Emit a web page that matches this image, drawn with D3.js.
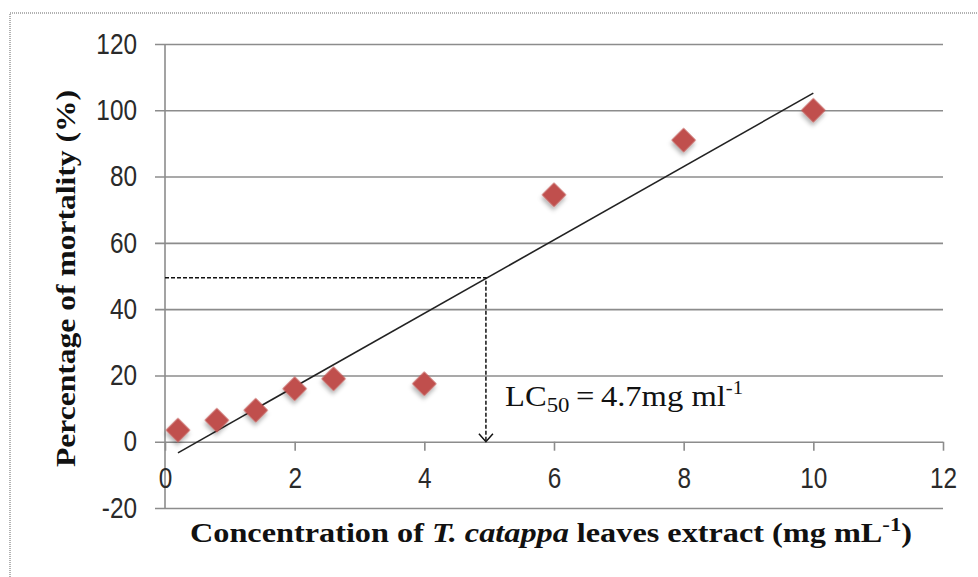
<!DOCTYPE html>
<html>
<head>
<meta charset="utf-8">
<script src="https://cdn.jsdelivr.net/npm/d3@7"></script>
<style>
  body { margin: 0; background: #fff; }
  svg { display: block; }
</style>
</head>
<body>
<div id="chart"></div>
<script>
const width = 978;
const height = 577;

// concentration (mg/mL) and mortality (%)
const concentration = [0.2, 0.8, 1.4, 2, 2.6, 4, 6, 8, 10];
const mortality = [3.5, 6.5, 9.5, 16, 19, 17.5, 74.5, 91, 100];

const xTicks = [0, 2, 4, 6, 8, 10, 12];
const yTicks = [-20, 0, 20, 40, 60, 80, 100, 120];

// where the dashed LC50 guide meets the trend line
const lc50Point = [4.95, 49.5];

const svg = d3.select("#chart")
  .append("svg")
  .attr("width", width)
  .attr("height", height);

// shadow under the markers
const defs = svg.append("defs");
defs.append("filter")
  .attr("id", "shadow")
  .attr("x", "-50%").attr("y", "-50%")
  .attr("width", "200%").attr("height", "200%")
  .append("feDropShadow")
  .attr("dx", 2).attr("dy", 3)
  .attr("stdDeviation", 2)
  .attr("flood-color", "#000")
  .attr("flood-opacity", 0.3);

// outer frame, only the left and top edges are in the picture
svg.append("rect")
  .attr("x", 10).attr("y", 13)
  .attr("width", 990).attr("height", 600)
  .attr("fill", "#fff")
  .attr("stroke", "#999")
  .attr("stroke-width", 1.5)
  .attr("stroke-dasharray", "1,1");

const x = d3.scaleLinear().domain([0, 12]).range([165, 943]);
const y = d3.scaleLinear().domain([-20, 120]).range([508, 44]);

const gridLeft = 155;
const tickFont = "'Liberation Sans', Arial, sans-serif";

// squeeze the tick labels a little, the originals are narrow
function narrowLabels(sel) {
  sel.attr("font-family", tickFont)
    .attr("font-size", 29)
    .attr("fill", "#2a2a2a")
    .each(function () {
      const w = this.getComputedTextLength();
      d3.select(this)
        .attr("textLength", w * 0.84)
        .attr("lengthAdjust", "spacingAndGlyphs");
    });
}

// y axis with gridlines
const yAxis = svg.append("g")
  .attr("transform", `translate(${gridLeft},0)`)
  .call(d3.axisLeft(y)
    .tickValues(yTicks)
    .tickFormat(d => String(d))
    .tickSize(-(x.range()[1] - gridLeft))
    .tickPadding(18));
yAxis.select(".domain").remove();
yAxis.selectAll(".tick line")
  .attr("stroke", "#8c8c8c")
  .attr("stroke-width", 1.6);
yAxis.selectAll(".tick text").call(narrowLabels);

// vertical axis line
svg.append("line")
  .attr("x1", x(0)).attr("x2", x(0))
  .attr("y1", y(120)).attr("y2", y(-20))
  .attr("stroke", "#8c8c8c")
  .attr("stroke-width", 1.6);

// x axis sits on the zero line
const xAxis = svg.append("g")
  .attr("transform", `translate(0,${y(0)})`)
  .call(d3.axisBottom(x).tickValues(xTicks).tickFormat(d => String(d)).tickSize(9).tickPadding(17));
xAxis.select(".domain").remove();
xAxis.selectAll(".tick line")
  .attr("stroke", "#8c8c8c")
  .attr("stroke-width", 1.6);
xAxis.selectAll(".tick text").call(narrowLabels);

// linear trend line (least squares fit over the points)
const n = concentration.length;
const mx = d3.mean(concentration);
const my = d3.mean(mortality);
let sxy = 0, sxx = 0;
for (let i = 0; i < n; i++) {
  sxy += (concentration[i] - mx) * (mortality[i] - my);
  sxx += (concentration[i] - mx) ** 2;
}
const slope = sxy / sxx;
const intercept = my - slope * mx;
const xExtent = d3.extent(concentration);

svg.append("path")
  .datum(xExtent.map(v => [v, slope * v + intercept]))
  .attr("d", d3.line().x(d => x(d[0])).y(d => y(d[1])))
  .attr("fill", "none")
  .attr("stroke", "#222")
  .attr("stroke-width", 1.6);

// dashed LC50 guides
svg.append("path")
  .attr("d", d3.line()([[x(0), y(lc50Point[1])], [x(lc50Point[0]), y(lc50Point[1])], [x(lc50Point[0]), y(0)]]))
  .attr("fill", "none")
  .attr("stroke", "#111")
  .attr("stroke-width", 1.5)
  .attr("stroke-dasharray", "4,2");

// open arrow head
svg.append("path")
  .attr("d", d3.line()([[x(lc50Point[0]) - 7, y(0) - 8], [x(lc50Point[0]), y(0)], [x(lc50Point[0]) + 7, y(0) - 8]]))
  .attr("fill", "none")
  .attr("stroke", "#111")
  .attr("stroke-width", 1.5);

// data markers
const diamond = d3.symbol().type(d3.symbolSquare).size(300);
svg.append("g")
  .selectAll("path")
  .data(concentration.map((c, i) => [c, mortality[i]]))
  .join("path")
  .attr("d", diamond)
  .attr("transform", d => `translate(${x(d[0])},${y(d[1])}) rotate(45)`)
  .attr("fill", "#c0504d")
  .attr("filter", "url(#shadow)");

// LC50 label
const lcLabel = svg.append("text")
  .attr("x", 505)
  .attr("y", 406)
  .attr("font-family", "'Liberation Serif', 'Times New Roman', serif")
  .attr("font-size", 30)
  .attr("fill", "#111")
  .attr("textLength", 238)
  .attr("lengthAdjust", "spacingAndGlyphs");
lcLabel.append("tspan").text("LC");
lcLabel.append("tspan").attr("font-size", 21).attr("dy", 6).text("50");
lcLabel.append("tspan").attr("dy", -6).text("\u2009=\u20094.7mg ml");
lcLabel.append("tspan").attr("font-size", 19).attr("dy", -12).text("-1");

// x axis title
const xTitle = svg.append("text")
  .attr("x", 190)
  .attr("y", 542)
  .attr("font-family", "'Liberation Serif', 'Times New Roman', serif")
  .attr("font-weight", "bold")
  .attr("font-size", 27)
  .attr("fill", "#111")
  .attr("textLength", 722)
  .attr("lengthAdjust", "spacingAndGlyphs");
xTitle.append("tspan").text("Concentration of ");
xTitle.append("tspan").attr("font-style", "italic").text("T. catappa");
xTitle.append("tspan").text(" leaves extract (mg mL");
xTitle.append("tspan").attr("font-size", 19).attr("dy", -11).text("-1");
xTitle.append("tspan").attr("dy", 11).text(")");

// y axis title
svg.append("text")
  .attr("transform", "translate(75,467) rotate(-90)")
  .attr("font-family", "'Liberation Serif', 'Times New Roman', serif")
  .attr("font-weight", "bold")
  .attr("font-size", 27)
  .attr("fill", "#111")
  .attr("textLength", 377)
  .attr("lengthAdjust", "spacingAndGlyphs")
  .text("Percentage of mortality (%)");
</script>
</body>
</html>
